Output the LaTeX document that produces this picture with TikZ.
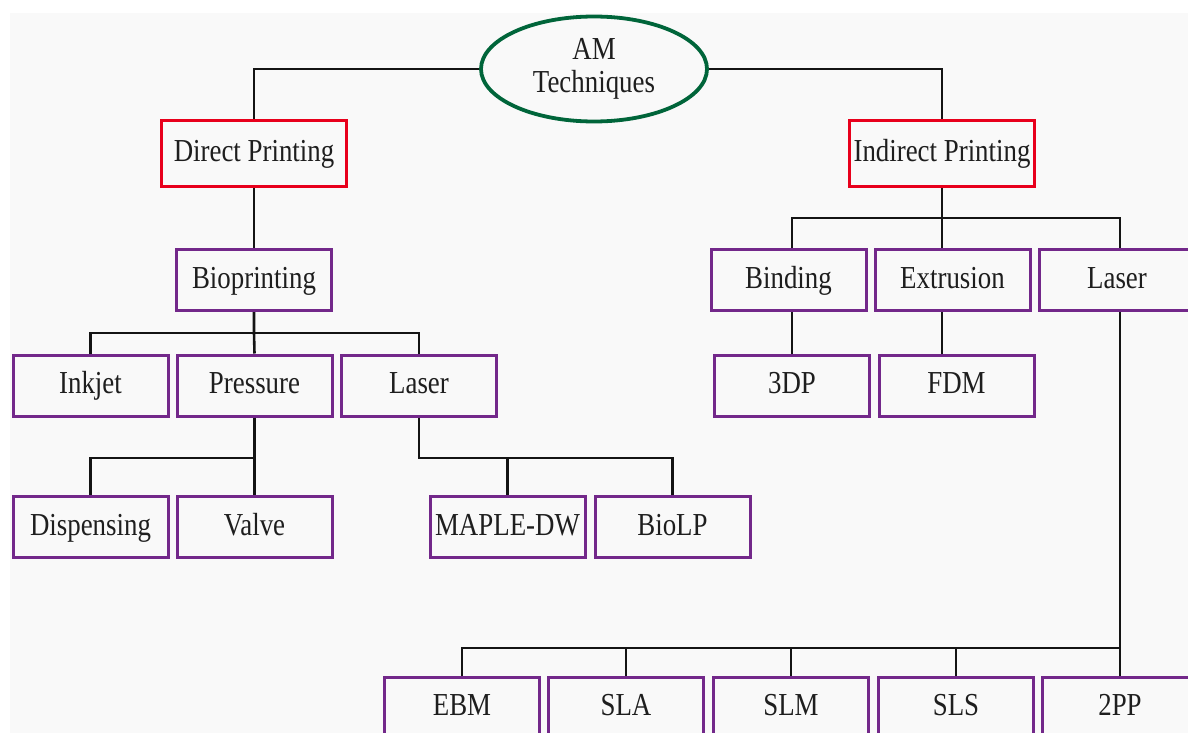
\documentclass[tikz,border=0pt]{standalone}
\usepackage{fontspec}
\setmainfont{Liberation Serif}
\usetikzlibrary{shapes.geometric}
\definecolor{bg}{HTML}{F9F9F9}
\definecolor{redb}{HTML}{E8001C}
\definecolor{purb}{HTML}{73288A}
\definecolor{greenb}{HTML}{00653A}
\definecolor{txt}{HTML}{1E1E1E}
\newcommand{\sq}[1]{\scalebox{0.84}[1]{#1}}
\begin{document}
\begin{tikzpicture}[x=1pt,y=-1pt,
  box/.style={draw=purb, line width=3pt, minimum width=155pt, minimum height=61pt, inner sep=0pt, text height=24pt, text depth=8pt, text=txt, font=\fontsize{32}{36}\selectfont},
  topbox/.style={box, draw=redb, minimum width=185pt, minimum height=66pt},
  conn/.style={draw=black!92, line width=2.6pt},
]
\useasboundingbox (0,0) rectangle (1188,733);
\clip (0,0) rectangle (1188,733);
\fill[bg] (10,13) rectangle (1188,733);

\node[ellipse, draw=greenb, line width=3.8pt, minimum width=226pt, minimum height=105pt, inner sep=0pt, align=center, text=txt, font=\fontsize{32}{33}\selectfont] (am) at (594,69) {\sq{AM}\\\sq{Techniques}};

\node[topbox] (direct) at (254,153.5) {\sq{Direct Printing}};
\node[topbox] (indirect) at (942,153.5) {\sq{Indirect Printing}};

\node[box] (bio) at (254,280) {\sq{Bioprinting}};
\node[box] (inkjet) at (90.5,385.5) {\sq{Inkjet}};
\node[box] (press) at (254.5,385.5) {\sq{Pressure}};
\node[box] (laserL) at (419,385.5) {\sq{Laser}};
\node[box] (disp) at (90.5,527) {\sq{Dispensing}};
\node[box] (valve) at (254.5,527) {\sq{Valve}};
\node[box] (maple) at (507.5,527) {\sq{MAPLE-DW}};
\node[box] (biolp) at (672.5,527) {\sq{BioLP}};

\node[box] (bind) at (788.5,280) {\sq{Binding}};
\node[box] (ext) at (952.5,280) {\sq{Extrusion}};
\node[box] (laserR) at (1117,280) {\sq{Laser}};
\node[box] (tdp) at (792,385.5) {\sq{3DP}};
\node[box] (fdm) at (956.5,385.5) {\sq{FDM}};

\node[box] (ebm) at (462,707.5) {\sq{EBM}};
\node[box] (sla) at (626,707.5) {\sq{SLA}};
\node[box] (slm) at (791,707.5) {\sq{SLM}};
\node[box] (sls) at (956,707.5) {\sq{SLS}};
\node[box] (tpp) at (1120,707.5) {\sq{2PP}};

\coordinate (b1) at (254,333);
\coordinate (p1) at (254.5,458);
\coordinate (l1) at (419,458);
\coordinate (i1) at (942,218);
\coordinate (r1) at (1120,648);

\draw[conn] (am.west) -| (direct.north);
\draw[conn] (am.east) -| (indirect.north);
\draw[conn] (direct.south) -- (bio.north);

\draw[conn] (bio.south) -- (b1) -- (press.north);
\draw[conn] (inkjet.north) |- (b1) -| (laserL.north);

\draw[conn] (press.south) -- (p1) -- (valve.north);
\draw[conn] (p1) -| (disp.north);

\draw[conn] (laserL.south) -- (l1) -| (biolp.north);
\draw[conn] (maple.north) -- (maple.north |- l1);

\draw[conn] (indirect.south) -- (indirect.south |- ext.north);
\draw[conn] (bind.north -| tdp.north) |- (i1) -| (laserR.north -| tpp.north);
\draw[conn] (bind.south -| tdp.north) -- (tdp.north);
\draw[conn] (ext.south -| indirect.south) -- (fdm.north -| indirect.south);

\draw[conn] (laserR.south -| tpp.north) -- (tpp.north);
\draw[conn] (ebm.north) |- (r1);
\draw[conn] (sla.north) -- (sla.north |- r1);
\draw[conn] (slm.north) -- (slm.north |- r1);
\draw[conn] (sls.north) -- (sls.north |- r1);
\end{tikzpicture}
\end{document}
